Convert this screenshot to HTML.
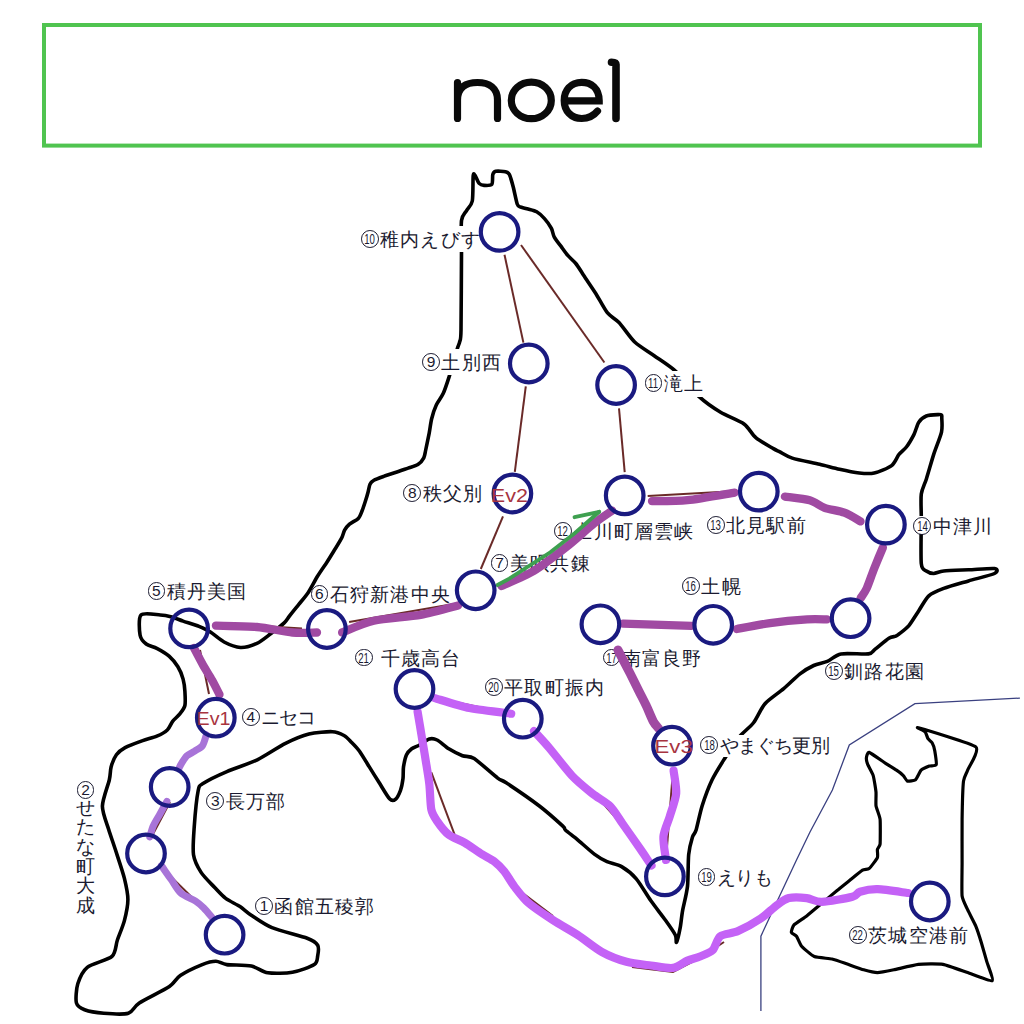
<!DOCTYPE html>
<html lang="ja"><head><meta charset="utf-8"><style>
html,body{margin:0;padding:0;width:1024px;height:1024px;overflow:hidden;background:#fff}
body{position:relative;font-family:"Liberation Sans",sans-serif}
.lb{position:absolute;height:26px;line-height:26px;color:#1a1a30;white-space:nowrap;background:#fff;padding:0 2px 0 0}
.nb{background:transparent}
.cn{display:inline-block;box-sizing:border-box;width:17.8px;height:17.8px;border:1px solid #1a1a30;border-radius:50%;vertical-align:middle;position:relative;top:-1px;text-align:center;line-height:16px;font-size:15.5px;overflow:visible}
.cn1{display:inline-block}
.cn2{display:inline-block;transform:scaleX(0.62);margin:0 -4px}
.tx{font-size:18.5px;letter-spacing:1.2px;margin-left:1.5px;vertical-align:middle}
.vt{height:auto;width:22px;text-align:center;padding:0;line-height:26px}
.vtx{font-size:18.5px;line-height:19.7px;margin-top:-6px}
.ev{position:absolute;font-size:19px;line-height:22px;color:#b8323f;white-space:nowrap;transform:scaleX(1.17);transform-origin:0 50%}
</style></head><body>
<svg width="1024" height="1024" viewBox="0 0 1024 1024" style="position:absolute;left:0;top:0">
<rect x="44" y="25" width="936" height="120.6" fill="none" stroke="#50c450" stroke-width="4"/>
<path d="M141.0,615.0 C143.7,612.3 156.3,614.8 160.3,615.0 C164.3,615.2 167.8,615.9 170.8,616.7 C173.8,617.5 179.3,619.8 183.1,621.1 C186.9,622.4 195.4,624.9 199.0,626.4 C202.6,627.9 207.1,629.9 210.4,632.0 C213.7,634.1 220.1,639.9 224.1,642.0 C228.1,644.1 236.1,647.3 240.5,647.5 C244.9,647.7 252.9,645.2 256.9,643.4 C260.9,641.6 267.0,636.5 270.6,633.8 C274.2,631.1 281.7,625.3 284.2,622.9 C286.7,620.5 287.5,618.6 289.4,616.1 C291.3,613.6 296.3,607.5 298.8,604.4 C301.3,601.3 305.6,596.4 308.1,592.7 C310.6,589.0 315.0,580.4 317.5,576.3 C320.0,572.2 324.4,566.0 326.9,562.2 C329.4,558.4 333.9,550.9 335.9,547.7 C337.9,544.5 340.5,540.2 341.7,537.9 C342.9,535.6 343.6,531.9 344.6,530.1 C345.6,528.3 347.7,525.8 349.5,524.2 C351.3,522.6 356.6,520.2 358.3,518.4 C360.0,516.6 361.3,512.7 362.2,510.5 C363.1,508.3 364.4,504.3 365.2,501.8 C366.0,499.3 367.5,494.3 368.1,492.0 C368.7,489.7 369.2,485.8 370.0,484.2 C370.8,482.6 372.1,481.3 373.9,480.3 C375.7,479.3 380.4,477.6 383.7,476.4 C387.0,475.2 395.1,472.6 398.4,471.5 C401.7,470.4 405.5,469.0 408.1,468.1 C410.7,467.2 415.8,466.0 417.9,464.6 C420.0,463.2 422.8,459.7 423.8,457.8 C424.8,455.9 425.0,453.3 425.7,450.0 C426.4,446.7 428.4,437.2 429.2,433.1 C430.0,429.0 430.7,422.7 431.6,419.0 C432.5,415.3 434.7,408.4 436.3,405.0 C437.9,401.6 441.6,397.0 443.3,393.3 C445.0,389.6 447.2,382.8 449.1,376.9 C451.0,371.0 455.9,353.5 457.3,348.8 C458.7,344.1 459.2,344.2 459.7,341.7 C460.2,339.2 460.8,341.9 461.0,330.0 C461.2,318.1 461.4,267.4 461.5,252.8 C461.6,238.2 460.8,226.1 461.5,220.5 C462.2,214.9 465.0,213.4 466.4,210.8 C467.8,208.2 471.4,205.7 472.3,201.0 C473.2,196.3 472.8,179.0 473.2,175.6 C473.6,172.2 474.4,174.6 475.2,175.6 C476.0,176.6 477.9,182.1 479.1,183.4 C480.3,184.7 482.3,185.3 484.0,185.4 C485.7,185.5 490.6,185.8 491.8,184.4 C493.0,183.0 492.3,176.3 492.8,174.6 C493.3,172.9 494.0,171.7 495.7,171.3 C497.4,170.9 503.7,171.3 505.5,171.7 C507.3,172.1 508.4,172.5 509.4,174.6 C510.4,176.7 512.3,183.4 513.3,187.3 C514.3,191.2 516.3,201.4 517.2,204.0 C518.1,206.6 518.8,206.3 520.1,206.9 C521.4,207.5 524.8,208.1 527.0,208.8 C529.2,209.5 534.4,210.5 536.7,211.8 C539.0,213.1 542.5,216.4 544.5,218.6 C546.5,220.8 550.1,225.9 551.4,228.4 C552.7,230.9 552.9,234.5 554.3,237.1 C555.7,239.7 560.3,245.4 562.1,247.9 C563.9,250.4 566.2,253.6 568.0,255.7 C569.8,257.8 573.7,260.9 575.8,263.5 C577.9,266.1 581.0,271.2 583.6,275.2 C586.2,279.2 592.4,288.2 595.6,293.2 C598.8,298.2 604.2,308.8 607.3,312.7 C610.4,316.6 615.3,318.6 619.0,322.5 C622.7,326.4 630.0,337.6 634.7,342.0 C639.4,346.4 648.7,351.8 654.2,355.7 C659.7,359.6 669.7,365.8 675.7,371.3 C681.7,376.8 693.1,391.2 699.1,396.7 C705.1,402.2 714.6,408.7 720.6,412.3 C726.6,415.9 739.3,420.6 744.0,424.0 C748.7,427.4 751.9,434.4 755.8,437.7 C759.7,441.0 770.2,446.7 773.4,448.6 C776.6,450.5 777.4,450.6 779.9,451.9 C782.4,453.2 787.0,456.4 792.3,458.1 C797.6,459.8 813.3,462.8 819.6,464.3 C825.9,465.8 834.2,468.1 839.5,469.3 C844.8,470.5 854.7,472.5 859.3,473.0 C863.9,473.5 869.9,474.0 874.2,473.0 C878.5,472.0 888.3,468.1 891.6,465.6 C894.9,463.1 897.0,456.9 899.0,454.4 C901.0,451.9 904.4,449.6 906.4,447.0 C908.4,444.4 912.2,437.9 913.9,434.6 C915.6,431.3 917.1,424.7 918.8,422.2 C920.5,419.7 923.7,417.0 926.3,416.0 C928.9,415.0 936.0,414.7 938.0,414.6 C940.0,414.5 941.0,414.5 941.5,415.0 C942.0,415.5 941.8,415.7 941.8,418.0 C941.8,420.3 942.6,427.2 941.5,432.1 C940.4,437.0 935.7,448.1 933.7,454.4 C931.7,460.7 928.0,473.9 926.3,479.2 C924.6,484.5 922.0,488.8 921.3,494.1 C920.6,499.4 921.3,509.6 921.3,518.9 C921.3,528.2 920.6,556.7 921.3,563.6 C922.0,570.5 924.6,569.7 926.3,571.0 C928.0,572.3 931.4,573.5 933.7,573.5 C936.0,573.5 939.1,571.5 943.7,571.0 C948.3,570.5 961.7,570.1 968.5,569.8 C975.3,569.5 991.0,568.0 994.5,568.5 C998.0,569.0 998.0,571.8 994.5,573.5 C991.0,575.2 975.3,578.9 968.5,580.9 C961.7,582.9 949.0,586.4 943.7,588.4 C938.4,590.4 932.1,592.8 928.8,595.8 C925.5,598.8 921.5,606.7 918.8,610.7 C916.1,614.7 911.5,622.5 908.9,625.6 C906.3,628.7 900.8,632.6 899.0,634.0 C897.2,635.4 897.0,635.6 895.7,636.2 C894.4,636.8 891.6,636.5 888.9,638.2 C886.2,639.9 877.9,647.0 875.2,649.1 C872.5,651.2 873.0,653.3 868.4,653.9 C863.8,654.5 846.5,652.9 841.0,653.9 C835.5,654.9 830.9,659.9 827.3,661.4 C823.7,662.9 817.3,663.8 813.7,665.5 C810.1,667.2 804.0,670.7 800.0,673.8 C796.0,676.9 788.4,684.7 783.7,688.7 C779.0,692.7 769.0,699.2 765.0,703.7 C761.0,708.2 756.9,718.3 753.7,722.5 C750.5,726.7 743.8,731.9 741.0,735.0 C738.2,738.1 735.1,743.0 733.0,746.0 C730.9,749.0 728.1,753.0 725.3,757.5 C722.5,762.0 715.1,773.5 712.0,780.0 C708.9,786.5 704.2,799.3 702.1,806.0 C700.0,812.7 697.4,825.8 696.1,830.0 C694.8,834.2 693.4,834.0 692.4,837.3 C691.4,840.6 689.4,847.9 688.7,854.4 C688.0,860.9 688.3,878.7 687.5,886.2 C686.7,893.7 683.6,905.1 682.6,910.6 C681.6,916.1 681.0,923.5 680.2,927.7 C679.4,931.9 677.2,941.3 676.5,942.3 C675.8,943.3 676.8,937.9 675.3,935.0 C673.8,932.1 668.8,924.9 665.5,920.3 C662.2,915.7 654.8,906.3 650.9,900.8 C647.0,895.3 640.2,883.4 636.3,878.8 C632.4,874.2 625.5,868.9 621.6,866.6 C617.7,864.3 610.6,863.3 607.0,861.7 C603.4,860.1 598.6,857.3 594.7,854.4 C590.8,851.5 581.6,843.1 577.7,839.8 C573.8,836.5 567.4,831.9 565.4,830.0 C563.4,828.1 566.1,829.1 562.6,825.9 C559.1,822.7 546.9,811.7 539.4,806.0 C531.9,800.3 511.8,786.5 506.2,782.8 C500.6,779.1 502.0,781.3 497.7,778.1 C493.4,774.9 478.9,761.6 474.2,758.6 C469.5,755.6 465.9,757.0 462.5,755.7 C459.1,754.4 452.2,750.9 448.8,748.8 C445.4,746.7 439.7,741.3 437.1,740.0 C434.5,738.7 431.6,738.3 429.3,739.0 C427.0,739.7 421.8,743.7 419.5,745.0 C417.2,746.3 413.4,747.5 411.7,748.8 C410.0,750.1 407.5,752.6 406.4,755.0 C405.3,757.4 404.0,763.8 403.5,766.9 C403.0,770.0 403.4,775.5 403.0,778.6 C402.6,781.7 401.5,787.6 400.5,790.3 C399.5,793.0 397.1,797.9 395.7,799.1 C394.3,800.3 392.0,801.3 389.8,799.1 C387.6,796.9 381.8,786.8 379.1,782.5 C376.4,778.2 371.9,771.1 369.3,766.9 C366.7,762.7 361.8,754.6 359.5,751.3 C357.2,748.0 353.8,744.6 351.7,742.5 C349.6,740.4 346.6,736.9 344.0,735.5 C341.4,734.1 337.0,731.9 332.3,731.7 C327.6,731.5 315.1,732.5 308.9,734.1 C302.7,735.7 292.4,740.0 285.5,743.4 C278.6,746.8 265.1,756.0 257.3,759.8 C249.5,763.6 234.1,768.5 226.9,771.6 C219.7,774.7 207.2,780.8 203.4,783.3 C199.6,785.8 199.4,784.6 198.2,790.5 C197.0,796.4 194.8,818.7 194.2,827.3 C193.6,835.9 192.6,848.7 193.5,854.7 C194.4,860.7 198.3,868.0 201.1,872.4 C203.9,876.8 211.4,884.0 214.7,887.5 C218.0,891.0 222.3,895.9 225.7,898.4 C229.1,900.9 236.6,904.4 240.0,906.6 C243.4,908.8 246.6,912.2 250.9,915.0 C255.2,917.8 264.5,924.6 272.0,927.7 C279.5,930.8 301.1,935.9 307.2,938.2 C313.3,940.5 316.3,942.9 317.7,945.2 C319.1,947.5 318.2,953.2 317.7,955.8 C317.2,958.4 317.7,962.4 314.3,964.6 C310.9,966.8 298.6,971.2 292.4,972.3 C286.2,973.4 273.3,973.6 267.8,972.8 C262.3,972.0 256.9,967.1 251.4,966.0 C245.9,964.9 231.5,965.2 226.8,964.6 C222.1,964.0 219.2,961.3 215.9,961.3 C212.6,961.3 206.9,962.7 202.2,964.6 C197.5,966.5 184.7,972.6 180.3,975.5 C175.9,978.4 174.9,982.8 169.4,986.5 C163.9,990.2 144.8,999.3 139.3,1002.9 C133.8,1006.5 133.1,1011.9 128.4,1013.3 C123.7,1014.7 109.6,1013.8 103.8,1013.3 C98.0,1012.8 88.3,1011.1 84.6,1009.7 C80.9,1008.3 77.3,1006.4 76.4,1002.9 C75.5,999.4 76.3,988.5 77.8,983.8 C79.3,979.1 82.7,971.0 87.3,967.3 C91.9,963.6 108.0,960.0 112.0,956.4 C116.0,952.8 115.7,944.8 117.4,940.0 C119.1,935.2 123.0,926.0 124.4,920.6 C125.8,915.2 127.9,905.1 127.9,899.5 C127.9,893.9 126.0,885.0 124.4,878.4 C122.8,871.8 117.7,856.9 115.6,850.3 C113.5,843.7 110.4,835.1 108.6,829.2 C106.8,823.3 102.3,812.7 102.4,806.1 C102.5,799.5 108.1,785.2 109.3,780.0 C110.5,774.8 110.2,770.4 111.1,767.0 C112.0,763.6 114.5,757.3 116.4,754.7 C118.3,752.1 121.6,749.5 125.1,747.6 C128.6,745.7 138.5,742.1 142.7,740.6 C146.9,739.1 153.5,737.6 156.8,736.2 C160.1,734.8 165.2,732.0 167.3,730.0 C169.4,728.0 171.0,723.4 172.6,721.3 C174.2,719.2 178.0,716.3 179.6,714.2 C181.2,712.1 184.2,708.5 184.9,705.5 C185.6,702.5 185.1,694.9 184.9,691.4 C184.7,687.9 184.0,682.4 183.1,679.1 C182.2,675.8 179.8,669.9 177.9,666.8 C176.0,663.7 171.9,658.7 169.1,656.2 C166.3,653.7 159.9,649.9 156.8,648.3 C153.7,646.7 148.4,645.7 146.2,644.0 C144.0,642.3 140.8,639.1 140.1,635.2 C139.4,631.3 138.3,617.7 141.0,615.0Z" fill="none" stroke="#000" stroke-width="3.6" stroke-linejoin="round" stroke-linecap="round"/>
<path d="M869.1,752.4 C870.7,752.9 883.3,761.8 885.6,763.3 C887.9,764.8 895.0,769.2 896.5,770.2 C898.0,771.2 902.4,774.7 903.3,775.6 C904.2,776.5 906.4,780.8 907.4,781.1 C908.4,781.4 914.5,780.6 915.6,779.7 C916.7,778.8 920.0,771.3 921.1,770.2 C922.2,769.1 928.0,766.6 929.3,766.1 C930.6,765.6 935.7,766.0 936.2,764.7 C936.7,763.4 935.1,752.8 934.8,751.0 C934.5,749.2 932.7,743.8 932.1,742.8 C931.5,741.8 928.6,739.6 928.0,738.7 C927.4,737.8 926.0,732.8 925.2,731.9 C924.4,731.0 914.2,726.5 918.4,727.8 C922.6,729.0 971.7,743.4 975.8,746.9 C979.9,750.4 968.6,767.4 967.6,770.2 C966.6,773.1 964.0,777.0 963.5,781.1 C963.0,785.2 962.2,812.6 962.1,819.4 C962.0,826.2 962.1,856.8 962.1,863.2 C962.1,869.6 961.6,892.1 962.1,896.0 C962.6,899.9 966.5,907.2 967.6,909.7 C968.7,912.2 974.7,923.4 975.8,926.1 C976.9,928.8 980.4,939.5 981.3,942.5 C982.2,945.5 985.9,958.4 986.8,961.6 C987.7,964.8 993.8,979.9 992.2,980.8 C990.6,981.7 971.7,974.0 967.6,972.6 C963.5,971.2 947.1,965.1 943.0,964.4 C938.9,963.7 922.5,963.9 918.4,964.4 C914.3,964.9 897.2,969.1 893.8,969.8 C890.4,970.5 879.9,972.6 877.4,972.6 C874.9,972.6 866.2,970.5 863.7,969.8 C861.2,969.1 849.9,965.0 847.3,964.1 C844.7,963.2 834.8,959.6 832.0,959.0 C829.2,958.4 816.8,957.6 814.3,956.5 C811.8,955.4 803.1,948.0 801.6,946.3 C800.1,944.6 797.4,937.4 796.5,936.2 C795.6,935.0 791.6,933.4 791.4,932.4 C791.2,931.4 792.7,926.2 794.0,924.8 C795.3,923.4 804.4,917.7 806.7,915.9 C809.0,914.1 819.4,905.3 821.9,903.2 C824.4,901.1 834.8,892.4 837.1,890.5 C839.4,888.6 847.7,882.0 849.8,880.3 C851.9,878.6 860.9,871.2 862.5,870.2 C864.1,869.2 867.9,869.6 869.1,868.6 C870.3,867.6 876.7,859.3 877.4,857.7 C878.1,856.1 877.2,850.6 877.4,849.5 C877.6,848.4 879.9,846.5 880.1,844.0 C880.3,841.5 880.4,822.6 880.1,819.4 C879.8,816.2 876.3,808.0 876.0,805.7 C875.7,803.4 876.2,794.6 876.0,792.1 C875.8,789.6 873.9,777.9 873.2,775.6 C872.5,773.3 868.4,766.2 867.8,764.7 C867.2,763.2 866.3,758.9 866.4,757.9 C866.5,756.9 867.5,751.9 869.1,752.4Z" fill="none" stroke="#000" stroke-width="3.2" stroke-linejoin="round"/>
<polyline points="760.9,1011.1 760.9,936.2 776.2,903.2 796.5,860.0 810.0,832.0 832.4,790.0 849.3,745.0 914.9,703.7 1019.9,698.1" fill="none" stroke="#3a4080" stroke-width="1.3"/>
</svg>

<div class="lb" style="left:360.8px;top:226.0px"><span class="cn"><span class="cn2">10</span></span><span class="tx" style="">稚内えびす</span></div><div class="lb" style="left:422.2px;top:349.3px"><span class="cn"><span class="cn1">9</span></span><span class="tx" style="">土別西</span></div><div class="lb" style="left:644.5px;top:370.5px"><span class="cn"><span class="cn2">11</span></span><span class="tx" style="">滝上</span></div><div class="lb nb" style="left:403.4px;top:480.5px"><span class="cn"><span class="cn1">8</span></span><span class="tx" style="">秩父別</span></div><div class="lb nb" style="left:554.1px;top:518.0px"><span class="cn"><span class="cn2">12</span></span><span class="tx" style="">上川町層雲峡</span></div><div class="lb nb" style="left:706.8px;top:512.5px"><span class="cn"><span class="cn2">13</span></span><span class="tx" style="">北見駅前</span></div><div class="lb" style="left:913.4px;top:512.9px;background:linear-gradient(transparent 3.5px,#fff 3.5px,#fff 21.5px,transparent 21.5px)"><span class="cn"><span class="cn2">14</span></span><span class="tx" style="">中津川</span></div><div class="lb nb" style="left:490.7px;top:549.9px"><span class="cn"><span class="cn1">7</span></span><span class="tx" style="">美唄共錬</span></div><div class="lb nb" style="left:310.5px;top:581.5px"><span class="cn"><span class="cn1">6</span></span><span class="tx" style="">石狩新港中央</span></div><div class="lb nb" style="left:147.5px;top:577.9px"><span class="cn"><span class="cn1">5</span></span><span class="tx" style="">積丹美国</span></div><div class="lb nb" style="left:241.8px;top:704.5px"><span class="cn"><span class="cn1">4</span></span><span class="tx" style="letter-spacing:-1.1px">ニセコ</span></div><div class="lb nb" style="left:206.3px;top:788.5px"><span class="cn"><span class="cn1">3</span></span><span class="tx" style="">長万部</span></div><div class="lb nb" style="left:255.1px;top:893.2px"><span class="cn"><span class="cn1">1</span></span><span class="tx" style="">函館五稜郭</span></div><div class="lb nb" style="left:682.2px;top:573.5px"><span class="cn"><span class="cn2">16</span></span><span class="tx" style="">土幌</span></div><div class="lb nb" style="left:602.5px;top:644.8px"><span class="cn"><span class="cn2">17</span></span><span class="tx" style="">南富良野</span></div><div class="lb nb" style="left:825.0px;top:658.4px"><span class="cn"><span class="cn2">15</span></span><span class="tx" style="">釧路花園</span></div><div class="lb" style="left:700.3px;top:731.9px;background:linear-gradient(transparent 3px,#fff 3px,#fff 25px,transparent 25px)"><span class="cn"><span class="cn2">18</span></span><span class="tx" style="letter-spacing:-0.8px">やまぐち更別</span></div><div class="lb nb" style="left:697.5px;top:864.5px"><span class="cn"><span class="cn2">19</span></span><span class="tx" style="letter-spacing:-0.6px">えりも</span></div><div class="lb nb" style="left:355.0px;top:644.8px"><span class="cn"><span class="cn2">21</span></span><span class="tx" style=""> 千歳高台</span></div><div class="lb nb" style="left:485.0px;top:674.5px"><span class="cn"><span class="cn2">20</span></span><span class="tx" style="">平取町振内</span></div><div class="lb nb" style="left:849.0px;top:922.5px"><span class="cn"><span class="cn2">22</span></span><span class="tx" style="">茨城空港前</span></div><div class="lb vt" style="left:74.5px;top:777.5px"><span class="cn"><span class="cn1">2</span></span><div class="vtx">せ<br>た<br>な<br>町<br>大<br>成</div></div>
<svg width="1024" height="1024" viewBox="0 0 1024 1024" style="position:absolute;left:0;top:0">
<polyline points="504.5,254.7 523.4,342.6" fill="none" stroke="#6a2a28" stroke-width="2"/>
<polyline points="521.0,245.0 604.4,362.5" fill="none" stroke="#6a2a28" stroke-width="2"/>
<polyline points="525.8,386.3 514.8,471.8" fill="none" stroke="#6a2a28" stroke-width="2"/>
<polyline points="619.0,408.4 624.7,472.2" fill="none" stroke="#6a2a28" stroke-width="2"/>
<polyline points="503.0,516.3 480.8,569.0" fill="none" stroke="#6a2a28" stroke-width="2"/>
<polyline points="647.7,495.9 728.2,491.6" fill="none" stroke="#6a2a28" stroke-width="2"/>
<polyline points="349.1,622.0 458.1,603.2" fill="none" stroke="#6a2a28" stroke-width="2"/>
<polyline points="215.9,623.4 302.0,628.4" fill="none" stroke="#6a2a28" stroke-width="2"/>
<polyline points="200.0,650.0 209.0,694.0" fill="none" stroke="#6a2a28" stroke-width="2"/>
<polyline points="436.0,698.0 500.0,711.5" fill="none" stroke="#6a2a28" stroke-width="2"/>
<polyline points="600.0,800.0 640.0,845.0" fill="none" stroke="#6a2a28" stroke-width="2"/>
<polyline points="431.3,772.3 454.7,834.8" fill="none" stroke="#6a2a28" stroke-width="2"/>
<polyline points="520.0,891.0 553.0,916.0" fill="none" stroke="#6a2a28" stroke-width="2"/>
<polyline points="632.0,967.0 673.0,972.0 700.0,958.0 724.0,942.0" fill="none" stroke="#6a2a28" stroke-width="2"/>
<polyline points="170.0,802.0 152.0,836.0" fill="none" stroke="#6a2a28" stroke-width="2"/>
<polyline points="160.0,866.0 212.0,917.0" fill="none" stroke="#6a2a28" stroke-width="2"/>
<polyline points="673.0,770.0 666.0,860.0" fill="none" stroke="#6a2a28" stroke-width="2"/>
<path d="M618.0,650.1 C619.6,653.3 627.5,668.3 630.3,673.8 C633.1,679.3 637.0,687.2 639.1,691.4 C641.2,695.6 644.3,701.5 646.2,705.5 C648.1,709.5 651.6,718.3 653.2,721.3 C654.8,724.3 657.8,727.4 658.5,728.3" fill="none" stroke="#a04aa2" stroke-width="9" stroke-linecap="round" stroke-linejoin="round"/>
<path d="M215.9,625.6 C221.4,625.8 246.7,626.1 256.9,627.0 C267.1,627.9 284.4,631.8 292.4,632.5 C300.4,633.2 313.7,632.5 317.0,632.5" fill="none" stroke="#a04aa2" stroke-width="8.3" stroke-linecap="round" stroke-linejoin="round"/>
<path d="M342.1,632.5 C346.3,630.9 363.3,623.1 373.8,620.8 C384.3,618.5 409.4,616.9 420.6,614.9 C431.8,612.9 453.1,606.8 458.1,605.5" fill="none" stroke="#a04aa2" stroke-width="8.3" stroke-linecap="round" stroke-linejoin="round"/>
<path d="M501.5,586.0 C505.8,584.0 525.1,576.2 533.7,571.0 C542.3,565.8 558.0,553.6 566.0,547.3 C574.0,541.0 587.8,528.5 593.9,523.6 C600.0,518.7 609.7,512.4 612.1,510.7" fill="none" stroke="#a04aa2" stroke-width="8.3" stroke-linecap="round" stroke-linejoin="round"/>
<path d="M652.0,501.2 C656.7,501.1 676.4,501.3 687.4,500.2 C698.4,499.1 728.4,493.6 734.7,492.6" fill="none" stroke="#a04aa2" stroke-width="8.3" stroke-linecap="round" stroke-linejoin="round"/>
<path d="M784.9,496.6 C788.2,497.1 804.4,498.8 809.7,500.3 C815.0,501.8 820.0,506.1 824.6,507.8 C829.2,509.5 839.6,510.9 844.4,512.7 C849.2,514.5 858.4,520.2 860.5,521.4" fill="none" stroke="#a04aa2" stroke-width="8.3" stroke-linecap="round" stroke-linejoin="round"/>
<path d="M882.9,547.5 C881.7,550.3 876.4,563.0 874.2,568.5 C872.0,574.0 868.5,584.4 866.7,588.4 C864.9,592.4 861.3,597.0 860.5,598.3" fill="none" stroke="#a04aa2" stroke-width="8.3" stroke-linecap="round" stroke-linejoin="round"/>
<path d="M827.0,619.4 C824.4,619.4 814.8,618.9 807.2,619.4 C799.6,619.9 779.4,621.8 770.0,623.1 C760.6,624.4 741.2,628.2 736.8,629.0" fill="none" stroke="#a04aa2" stroke-width="8.3" stroke-linecap="round" stroke-linejoin="round"/>
<path d="M691.7,625.8 L623.0,623.7" fill="none" stroke="#a04aa2" stroke-width="8.3" stroke-linecap="round" stroke-linejoin="round"/>
<path d="M194.0,648.0 C195.2,650.3 200.6,660.7 203.0,665.0 C205.4,669.3 209.8,676.1 212.0,680.0 C214.2,683.9 218.5,692.6 219.5,694.5" fill="none" stroke="#a04aa2" stroke-width="8.3" stroke-linecap="round" stroke-linejoin="round"/>
<path d="M206.4,734.7 C205.9,736.2 204.1,743.4 202.5,745.6 C200.9,747.8 196.8,749.7 194.7,751.1 C192.6,752.5 188.7,754.1 186.9,755.8 C185.1,757.5 182.5,761.9 181.4,763.6 C180.3,765.3 179.3,767.7 179.0,768.3" fill="none" stroke="#a874d8" stroke-width="7" stroke-linecap="round" stroke-linejoin="round"/>
<path d="M166.9,801.4 C166.0,803.0 161.9,810.4 160.1,813.7 C158.3,817.0 154.6,822.9 153.2,826.0 C151.8,829.1 150.3,835.4 149.8,836.9" fill="none" stroke="#a874d8" stroke-width="7" stroke-linecap="round" stroke-linejoin="round"/>
<path d="M161.4,865.6 C162.7,867.4 168.4,875.7 171.0,879.3 C173.6,882.9 177.3,890.0 180.6,892.9 C183.9,895.8 192.5,899.1 195.6,901.1 C198.7,903.1 201.6,905.8 203.8,908.0 C206.0,910.2 210.9,916.2 212.0,917.5" fill="none" stroke="#a874d8" stroke-width="7" stroke-linecap="round" stroke-linejoin="round"/>
<path d="M434.8,698.1 C439.4,699.4 459.4,706.0 469.6,708.1 C479.8,710.2 505.7,713.0 511.2,713.7" fill="none" stroke="#c462f6" stroke-width="8.2" stroke-linecap="round" stroke-linejoin="round"/>
<path d="M534.0,731.0 C536.0,733.2 544.1,741.8 549.2,747.8 C554.3,753.8 566.3,769.6 572.0,775.7 C577.7,781.8 587.2,789.4 592.3,793.5 C597.4,797.6 606.0,802.1 610.1,806.2 C614.2,810.3 618.7,818.2 622.8,824.0 C626.9,829.8 636.8,843.9 640.6,849.4 C644.4,854.9 650.0,863.4 651.5,865.5" fill="none" stroke="#c462f6" stroke-width="8.2" stroke-linecap="round" stroke-linejoin="round"/>
<path d="M673.6,770.6 C673.9,773.7 676.7,787.4 676.2,793.5 C675.7,799.6 671.5,810.6 669.8,816.3 C668.1,822.0 663.9,830.8 663.4,836.6 C662.9,842.4 665.7,856.9 666.0,860.0" fill="none" stroke="#c462f6" stroke-width="8.2" stroke-linecap="round" stroke-linejoin="round"/>
<path d="M417.6,711.7 C418.1,714.8 420.5,728.9 421.5,735.2 C422.5,741.5 424.4,752.1 425.4,758.6 C426.4,765.1 428.5,777.2 429.3,784.0 C430.1,790.8 430.3,804.5 431.3,809.4 C432.3,814.3 434.8,817.7 437.1,821.1 C439.4,824.5 445.1,831.9 448.8,834.8 C452.5,837.7 460.1,840.0 464.5,842.6 C468.9,845.2 478.0,851.8 482.0,854.3 C486.0,856.8 491.6,859.4 494.6,861.7 C497.6,864.0 501.8,868.2 504.4,871.5 C507.0,874.8 510.9,882.0 514.2,886.2 C517.5,890.4 523.6,898.7 528.8,903.2 C534.0,907.7 546.7,916.1 553.2,920.3 C559.7,924.5 571.2,930.8 577.7,935.0 C584.2,939.2 595.6,948.5 602.1,952.1 C608.6,955.7 620.0,960.0 626.5,961.8 C633.0,963.6 644.7,964.7 650.9,965.5 C657.1,966.3 668.0,968.6 672.9,967.9 C677.8,967.2 683.9,962.1 687.5,960.6 C691.1,959.1 696.6,957.9 700.0,956.5 C703.4,955.1 710.0,952.8 712.7,950.1 C715.4,947.4 716.9,938.7 720.3,936.2 C723.7,933.7 732.7,933.5 738.1,931.1 C743.5,928.7 755.8,921.8 760.9,918.4 C766.0,915.0 772.5,908.4 776.2,905.7 C779.9,903.0 784.8,899.1 788.9,898.1 C793.0,897.1 802.3,897.6 806.7,898.1 C811.1,898.6 815.8,902.1 821.9,901.9 C828.0,901.7 847.3,898.2 852.4,896.8 C857.5,895.4 856.6,892.7 860.0,891.7 C863.4,890.7 871.4,889.0 877.8,889.2 C884.2,889.4 904.1,892.5 908.2,893.0" fill="none" stroke="#c462f6" stroke-width="8.2" stroke-linecap="round" stroke-linejoin="round"/>
<polyline points="497.5,585 509.3,578.6 550.3,552.3 575,533 599.2,511.8" fill="none" stroke="#3ea050" stroke-width="3.8" stroke-linecap="round"/>
<polyline points="574.5,517.2 599.2,511.8" fill="none" stroke="#3ea050" stroke-width="3.8" stroke-linecap="round"/>
</svg>
<svg width="1024" height="1024" viewBox="0 0 1024 1024" style="position:absolute;left:0;top:0">
<circle cx="499.6" cy="231.9" r="18.8" fill="none" stroke="#1a1a80" stroke-width="4.2"/>
<circle cx="528.8" cy="363.5" r="18.8" fill="none" stroke="#1a1a80" stroke-width="4.2"/>
<circle cx="616.1" cy="385" r="18.8" fill="none" stroke="#1a1a80" stroke-width="4.2"/>
<circle cx="512.4" cy="493.5" r="18.8" fill="none" stroke="#1a1a80" stroke-width="4.2"/>
<circle cx="624.7" cy="495.4" r="18.8" fill="none" stroke="#1a1a80" stroke-width="4.2"/>
<circle cx="758.8" cy="491.6" r="18.8" fill="none" stroke="#1a1a80" stroke-width="4.2"/>
<circle cx="885.9" cy="524.6" r="18.8" fill="none" stroke="#1a1a80" stroke-width="4.2"/>
<circle cx="475.7" cy="590.3" r="18.8" fill="none" stroke="#1a1a80" stroke-width="4.2"/>
<circle cx="326.9" cy="629" r="18.8" fill="none" stroke="#1a1a80" stroke-width="4.2"/>
<circle cx="189.1" cy="628.4" r="18.8" fill="none" stroke="#1a1a80" stroke-width="4.2"/>
<circle cx="215.8" cy="717.7" r="18.8" fill="none" stroke="#1a1a80" stroke-width="4.2"/>
<circle cx="169.7" cy="787" r="18.8" fill="none" stroke="#1a1a80" stroke-width="4.2"/>
<circle cx="146" cy="853.5" r="18.8" fill="none" stroke="#1a1a80" stroke-width="4.2"/>
<circle cx="224.6" cy="934.7" r="18.8" fill="none" stroke="#1a1a80" stroke-width="4.2"/>
<circle cx="713.2" cy="624.8" r="18.8" fill="none" stroke="#1a1a80" stroke-width="4.2"/>
<circle cx="600.4" cy="624.3" r="18.8" fill="none" stroke="#1a1a80" stroke-width="4.2"/>
<circle cx="850.6" cy="618.2" r="18.8" fill="none" stroke="#1a1a80" stroke-width="4.2"/>
<circle cx="672" cy="745.7" r="18.8" fill="none" stroke="#1a1a80" stroke-width="4.2"/>
<circle cx="664.9" cy="876.4" r="18.8" fill="none" stroke="#1a1a80" stroke-width="4.2"/>
<circle cx="414.5" cy="689" r="18.8" fill="none" stroke="#1a1a80" stroke-width="4.2"/>
<circle cx="522.8" cy="718.7" r="18.8" fill="none" stroke="#1a1a80" stroke-width="4.2"/>
<circle cx="929.8" cy="901.5" r="18.8" fill="none" stroke="#1a1a80" stroke-width="4.2"/>
<path d="M457.5,118.4 V82.6 M457.5,100 C457.5,87 466,82.5 477.5,82.5 C489,82.5 497.5,88 497.5,100 V118.4" fill="none" stroke="#0a0a0a" stroke-width="7.2" stroke-linecap="round"/>
<ellipse cx="531.3" cy="100.4" rx="20" ry="18.3" fill="none" stroke="#0a0a0a" stroke-width="7.2"/>
<path d="M564.2,100.8 H599.2 C599.2,88 591,82.3 581.7,82.3 C570.5,82.3 564.2,90.5 564.2,100.4 C564.2,110.5 571,118.5 581.7,118.5 C588.5,118.5 593.5,116 597.5,111" fill="none" stroke="#0a0a0a" stroke-width="7.2" stroke-linecap="round"/>
<path d="M616,118.4 V64.5 C616,62.5 614.5,62.3 611.5,62.3" fill="none" stroke="#0a0a0a" stroke-width="7.6" stroke-linecap="round"/>
<text x="490.8" y="501.6" font-family="Liberation Sans, sans-serif" font-size="19.2" fill="#a8343f" textLength="37.1" lengthAdjust="spacingAndGlyphs">Ev2</text>
<text x="196.6" y="724.8" font-family="Liberation Sans, sans-serif" font-size="19.2" fill="#a8343f" textLength="33.9" lengthAdjust="spacingAndGlyphs">Ev1</text>
<text x="654.6" y="752.8" font-family="Liberation Sans, sans-serif" font-size="19.2" fill="#a8343f" textLength="38.1" lengthAdjust="spacingAndGlyphs">Ev3</text>
</svg>
</body></html>
